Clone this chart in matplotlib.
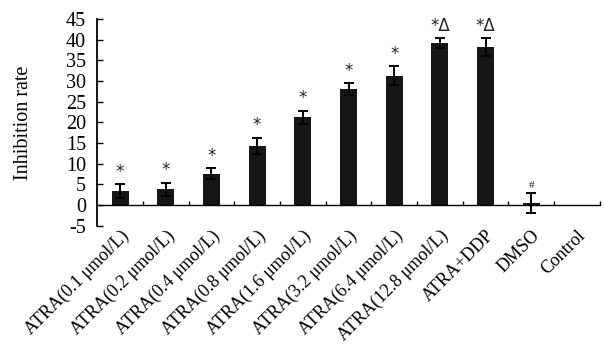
import matplotlib
matplotlib.use("Agg")
import matplotlib.pyplot as plt
import numpy as np

categories = ["ATRA(0.1 μmol/L)", "ATRA(0.2 μmol/L)", "ATRA(0.4 μmol/L)",
              "ATRA(0.8 μmol/L)", "ATRA(1.6 μmol/L)", "ATRA(3.2 μmol/L)",
              "ATRA(6.4 μmol/L)", "ATRA(12.8 μmol/L)", "ATRA+DDP", "DMSO", "Control"]
values = [3.4, 3.8, 7.6, 14.3, 21.2, 28.0, 31.3, 39.1, 38.2, 0.5, 0.0]
errors = [1.7, 1.6, 1.3, 2.0, 1.6, 1.5, 2.3, 1.2, 2.1, 2.4, 0.0]
marks = ["*", "*", "*", "*", "*", "*", "*", "*Δ", "*Δ", "#", ""]
yticks = [-5, 0, 5, 10, 15, 20, 25, 30, 35, 40, 45]

plt.rcParams['font.family'] = ['Liberation Serif', 'DejaVu Serif']
plt.rcParams['axes.unicode_minus'] = False

fig = plt.figure(figsize=(6.04, 3.52), dpi=100)
ax = fig.add_axes([0.161, 0.359, 0.832, 0.587])

x = np.arange(len(categories))
ax.bar(x, values, width=0.37, color='#161616', zorder=2)
for xi, v, e in zip(x, values, errors):
    if e > 0:
        ax.errorbar(xi, v, yerr=e, fmt='none', ecolor='black', elinewidth=1.4,
                    capsize=3.5, capthick=1.4, zorder=3)
for xi, v, e, m in zip(x, values, errors, marks):
    if m:
        fs = 8 if m == "#" else 12
        ax.text(xi, v + e + 0.8, m, ha='center', va='bottom', fontsize=fs,
                color='#222222', family=['DejaVu Sans'] if m != "#" else None)

ax.set_xlim(-0.5, len(categories) - 0.5)
ax.set_ylim(-5, 45)
ax.set_yticks(yticks)
ax.tick_params(axis='y', direction='in', length=4, width=1, labelsize=14.5, pad=8)

for s in ['top', 'right']:
    ax.spines[s].set_visible(False)
ax.spines['left'].set_linewidth(1.3)
ax.spines['bottom'].set_position(('data', 0))
ax.spines['bottom'].set_linewidth(1.0)

ax.set_xticks(x)
ax.set_xticklabels(categories, rotation=45, ha='right', va='top',
                   rotation_mode='anchor', fontsize=13)
ax.set_xticks(np.arange(0.5, len(categories), 1.0), minor=True)
ax.tick_params(axis='x', which='major', length=0, pad=16)
ax.tick_params(axis='x', which='minor', direction='in', length=3, width=1)

ax.set_ylabel("Inhibition rate", fontsize=14.5, labelpad=24)

fig.savefig("out.png", dpi=100)
